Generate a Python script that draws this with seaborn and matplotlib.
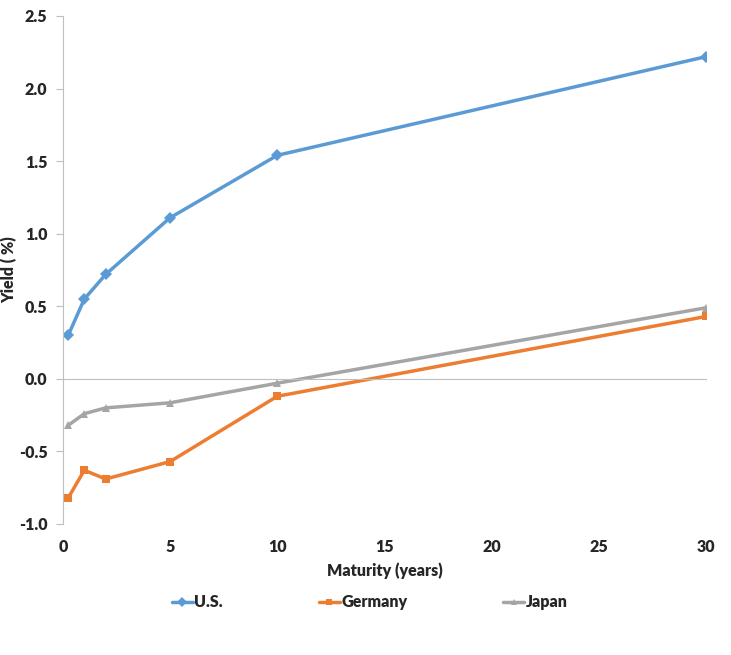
import pandas as pd
import matplotlib
matplotlib.use("Agg")
import matplotlib.pyplot as plt
import seaborn as sns

# datos
maturity = [0.25, 1, 2, 5, 10, 30]
us_yield = [0.30, 0.55, 0.72, 1.11, 1.54, 2.22]
germany_yield = [-0.82, -0.63, -0.69, -0.57, -0.12, 0.43]
japan_yield = [-0.32, -0.24, -0.20, -0.165, -0.03, 0.49]
countries = ["U.S.", "Germany", "Japan"]
y_ticks = [-1.0, -0.5, 0.0, 0.5, 1.0, 1.5, 2.0, 2.5]
x_ticks = [0, 5, 10, 15, 20, 25, 30]

df = pd.DataFrame({
    "maturity": maturity * 3,
    "yield": us_yield + germany_yield + japan_yield,
    "country": [c for c in countries for _ in maturity],
})

sns.set_style("white")
plt.rcParams["font.family"] = ["Lato", "DejaVu Sans"]
peso = "heavy"

colores = {"U.S.": "#5B9BD5", "Germany": "#ED7D31", "Japan": "#A5A5A5"}
marcadores = {"U.S.": "D", "Germany": "s", "Japan": "^"}

fig = plt.figure(figsize=(7.31, 6.55), dpi=100)
ax = fig.add_axes([0.086, 0.2, 0.88, 0.7756])

sns.lineplot(data=df, x="maturity", y="yield", hue="country", style="country",
             palette=colores, markers=marcadores, dashes=False,
             linewidth=2.5, markersize=6, markeredgewidth=0, ax=ax)

ax.set_xlim(0, 30)
ax.set_ylim(-1.0, 2.5)
ax.set_yticks(y_ticks)
ax.set_yticklabels([f"{v:.1f}" for v in y_ticks], fontsize=11.5, fontweight=peso)
ax.set_xticks(x_ticks)

# eje x en cero, etiquetas abajo
for s in ["top", "right"]:
    ax.spines[s].set_visible(False)
ax.spines["left"].set_color("#BFBFBF")
ax.spines["bottom"].set_color("#BFBFBF")
ax.spines["bottom"].set_position(("data", 0))
ax.tick_params(axis="x", direction="out", length=5, color="#BFBFBF", labelbottom=False)
ax.tick_params(axis="y", direction="out", length=5, color="#BFBFBF", left=True, pad=6)

sec = ax.secondary_xaxis(0)
sec.set_xticks(x_ticks)
sec.set_xticklabels([str(v) for v in x_ticks], fontsize=11.5, fontweight=peso)
sec.spines["bottom"].set_visible(False)
sec.tick_params(length=0, pad=11)
sec.set_xlabel("Maturity (years)", fontsize=11.5, fontweight=peso, labelpad=5)

ax.set_xlabel("")
ax.set_ylabel("Yield ( %)", fontsize=11.5, fontweight=peso)
ax.yaxis.set_label_coords(-0.07, 0.5)

ax.legend(loc="upper center", bbox_to_anchor=(0.477, -0.11), ncol=3, frameon=False,
          columnspacing=6.0, handlelength=1.3, handletextpad=0.1, markerscale=0.8,
          prop={"weight": peso, "size": 11.5})

fig.savefig("out.png", dpi=100)
